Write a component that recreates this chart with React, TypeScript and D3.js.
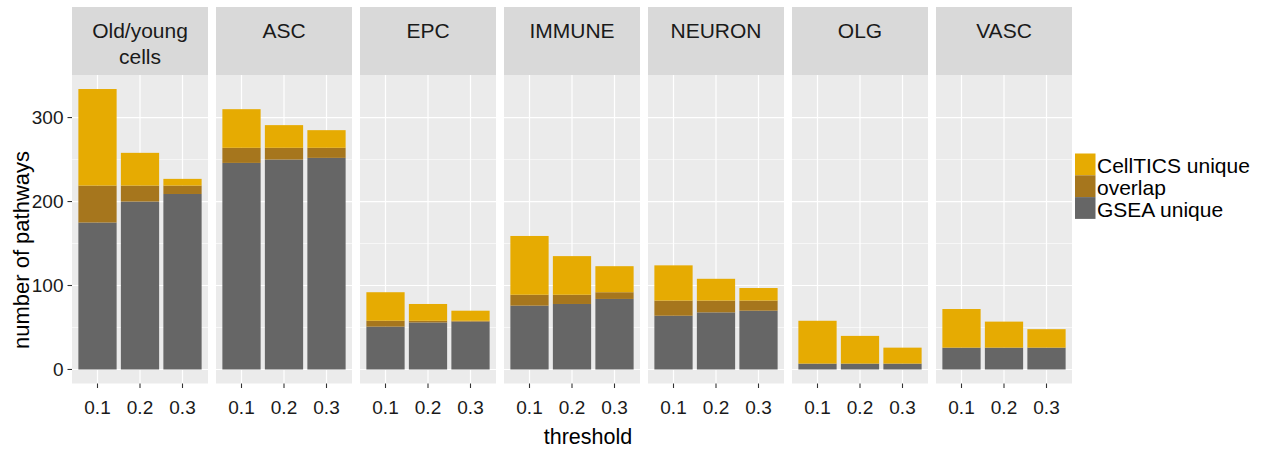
import React from "react";
import * as d3 from "d3";

const facets = ["Old/young\ncells", "ASC", "EPC", "IMMUNE", "NEURON", "OLG", "VASC"];
const thresholds = ["0.1", "0.2", "0.3"];
const seriesNames = ["CellTICS unique", "overlap", "GSEA unique"];
const seriesColors = ["#E6AB02", "#A6761D", "#666666"];

// values per facet, per threshold
const gseaUnique = [
  [175, 200, 209],
  [246, 250, 252],
  [51, 56, 57],
  [76, 78, 84],
  [64, 68, 70],
  [7, 7, 7],
  [26, 26, 26],
];
const overlap = [
  [44, 19, 10],
  [18, 14, 12],
  [7, 2, 1],
  [13, 11, 8],
  [18, 14, 12],
  [0, 0, 0],
  [0, 0, 0],
];
const celltics = [
  [115, 39, 8],
  [46, 27, 21],
  [34, 20, 12],
  [70, 46, 31],
  [42, 26, 15],
  [51, 33, 19],
  [46, 31, 22],
];
const yTicks = [0, 100, 200, 300];
const yMinor = [50, 150, 250];

const W = 1268;
const H = 452;
const panelLeft = 72;
const panelRight = 1072;
const panelTop = 75;
const panelBottom = 383.5;
const stripTop = 7;
const FONT = "'Liberation Sans', Arial, Helvetica, sans-serif";

export default function App() {
  const totals = facets.map((_, i) =>
    thresholds.map((_, j) => gseaUnique[i][j] + overlap[i][j] + celltics[i][j])
  );
  const maxTotal = d3.max(totals.flat()) as number;
  const pad = maxTotal * 0.05;
  const y = d3.scaleLinear().domain([-pad, maxTotal + pad]).range([panelBottom, panelTop]);

  const fx = d3
    .scaleBand<string>()
    .domain(facets)
    .range([panelLeft, panelRight])
    .paddingInner(8 / 144)
    .paddingOuter(0);
  const pw = fx.bandwidth();

  const xInner = d3
    .scaleBand<string>()
    .domain(thresholds)
    .range([0, pw])
    .paddingInner(0.1)
    .paddingOuter(0.15);

  const midY = (panelTop + panelBottom) / 2;

  return (
    <svg width={W} height={H} style={{ position: "absolute", left: 0, top: 0, background: "#fff" }}>
      <rect x={0} y={0} width={W} height={H} fill="#ffffff" />
      {facets.map((f, i) => {
        const x0 = fx(f) as number;
        const lines = f.split("\n");
        return (
          <g key={f}>
            {/* strip */}
            <rect x={x0} y={stripTop} width={pw} height={panelTop - stripTop} fill="#D9D9D9" />
            {lines.map((ln, k) => (
              <text
                key={k}
                x={x0 + pw / 2}
                y={37.5 + k * 26}
                textAnchor="middle"
                fontFamily={FONT}
                fontSize={21}
                fill="#1A1A1A"
              >
                {ln}
              </text>
            ))}
            {/* panel */}
            <rect x={x0} y={panelTop} width={pw} height={panelBottom - panelTop} fill="#EBEBEB" />
            {yMinor.map((v) => (
              <line key={"m" + v} x1={x0} x2={x0 + pw} y1={y(v)} y2={y(v)} stroke="#fff" strokeWidth={0.6} />
            ))}
            {yTicks.map((v) => (
              <line key={"M" + v} x1={x0} x2={x0 + pw} y1={y(v)} y2={y(v)} stroke="#fff" strokeWidth={1.2} />
            ))}
            {thresholds.map((t) => {
              const cx = x0 + (xInner(t) as number) + xInner.bandwidth() / 2;
              return (
                <line key={"v" + t} x1={cx} x2={cx} y1={panelTop} y2={panelBottom} stroke="#fff" strokeWidth={1.2} />
              );
            })}
            {/* bars */}
            {thresholds.map((t, j) => {
              const bx = x0 + (xInner(t) as number);
              const bw = xInner.bandwidth();
              const g = gseaUnique[i][j];
              const o = overlap[i][j];
              const c = celltics[i][j];
              const segs = [
                { lo: 0, hi: g, col: seriesColors[2] },
                { lo: g, hi: g + o, col: seriesColors[1] },
                { lo: g + o, hi: g + o + c, col: seriesColors[0] },
              ];
              return (
                <g key={"b" + t}>
                  {segs.map((s, k) =>
                    s.hi > s.lo ? (
                      <rect key={k} x={bx} width={bw} y={y(s.hi)} height={y(s.lo) - y(s.hi)} fill={s.col} />
                    ) : null
                  )}
                </g>
              );
            })}
            {/* x ticks */}
            {thresholds.map((t) => {
              const cx = x0 + (xInner(t) as number) + xInner.bandwidth() / 2;
              return (
                <g key={"t" + t}>
                  <line x1={cx} x2={cx} y1={panelBottom} y2={panelBottom + 4.5} stroke="#333" strokeWidth={1.1} />
                  <text x={cx} y={414} textAnchor="middle" fontFamily={FONT} fontSize={19} fill="#1A1A1A">
                    {t}
                  </text>
                </g>
              );
            })}
          </g>
        );
      })}
      {/* y axis */}
      {yTicks.map((v) => (
        <g key={"y" + v}>
          <line x1={panelLeft - 4.5} x2={panelLeft} y1={y(v)} y2={y(v)} stroke="#333" strokeWidth={1.1} />
          <text
            x={63.5}
            y={y(v)}
            dy="0.36em"
            textAnchor="end"
            fontFamily={FONT}
            fontSize={19}
            fill="#1A1A1A"
          >
            {v}
          </text>
        </g>
      ))}
      <text
        transform={`translate(29, 250) rotate(-90)`}
        textAnchor="middle"
        fontFamily={FONT}
        fontSize={22}
        fill="#000"
      >
        number of pathways
      </text>
      <text x={588} y={443.5} textAnchor="middle" fontFamily={FONT} fontSize={21.5} fill="#000">
        threshold
      </text>
      {/* legend */}
      {seriesNames.map((s, k) => {
        const ky = 153.5 + k * 21.8;
        return (
          <g key={s}>
            <rect x={1075} y={ky} width={20.5} height={21.8} fill={seriesColors[k]} />
            <text x={1097} y={ky + 10.9 + 9} fontFamily={FONT} fontSize={21} fill="#000">
              {s}
            </text>
          </g>
        );
      })}
    </svg>
  );
}
